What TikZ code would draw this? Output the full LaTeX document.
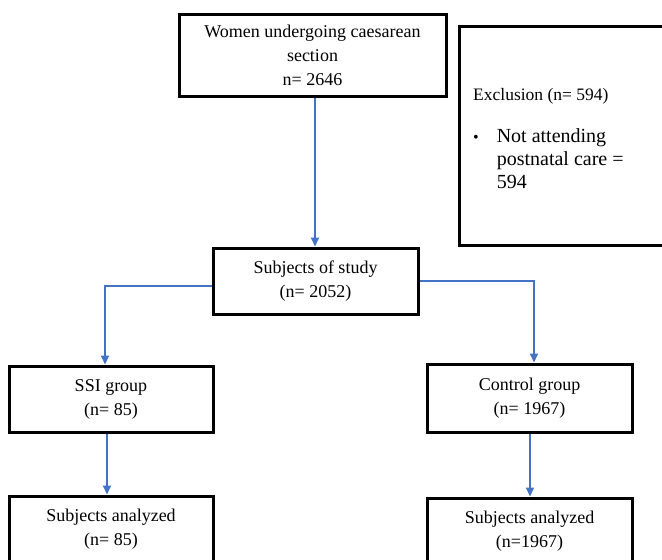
\documentclass[tikz,border=0pt]{standalone}
\usepackage{fontspec}
\setmainfont{Liberation Serif}
\usetikzlibrary{arrows.meta}
\definecolor{flowblue}{RGB}{68,114,196}

\begin{document}
\begin{tikzpicture}[x=1pt,y=-1pt,
  box/.style={draw,line width=3pt,rectangle,align=center,inner sep=0pt,font=\fontsize{18}{24}\selectfont},
  link/.style={flowblue,line width=1.8pt,-{Triangle[length=9pt,width=8pt]}}]
\useasboundingbox (0,0) rectangle (662,560);
\node[box,minimum width=267pt,minimum height=82pt] (women) at (312.5,55) {Women undergoing caesarean\\section\\n= 2646};
\node[box,minimum width=240pt,minimum height=219pt] (excl) at (579,135.5) {};
\node[anchor=base west,inner sep=0pt,font=\fontsize{17.5}{22}\selectfont] (exhead) at (473,100) {Exclusion (n= 594)};
\node[anchor=base west,inner sep=0pt,font=\fontsize{20}{23}\selectfont] (exlist) at (473,142)
  {\begin{tabular}[t]{@{}l@{\hspace{18pt}}l@{}}{\fontsize{16}{16}\selectfont\textbullet} & Not attending\\ & postnatal care =\\ & 594\end{tabular}};
\node[box,minimum width=205pt,minimum height=66pt] (study) at (315.5,281) {Subjects of study\\(n= 2052)};
\node[box,minimum width=204pt,minimum height=66pt] (ssi) at (111,399) {SSI group\\(n= 85)};
\node[box,minimum width=205pt,minimum height=68pt] (control) at (529.5,398) {Control group\\(n= 1967)};
\node[box,minimum width=204pt,minimum height=66pt] (ssian) at (111,529) {Subjects analyzed\\(n= 85)};
\node[box,minimum width=205pt,minimum height=66pt] (conan) at (529.5,531) {Subjects analyzed\\(n=1967)};
\draw[link] ([xshift=-0.5pt]study.north |- women.south) -- ([xshift=-0.5pt]study.north);
\draw[link] ([yshift=-5pt]study.west) -| ([xshift=-6pt]ssi.north);
\draw[link] (study.east) -| ([xshift=4.5pt]control.north);
\draw[link] ([xshift=-4pt]ssi.south) -- ([xshift=-4pt]ssian.north);
\draw[link] ([xshift=0.5pt]control.south) -- ([xshift=0.5pt]control.south |- conan.north);
\end{tikzpicture}
\end{document}
